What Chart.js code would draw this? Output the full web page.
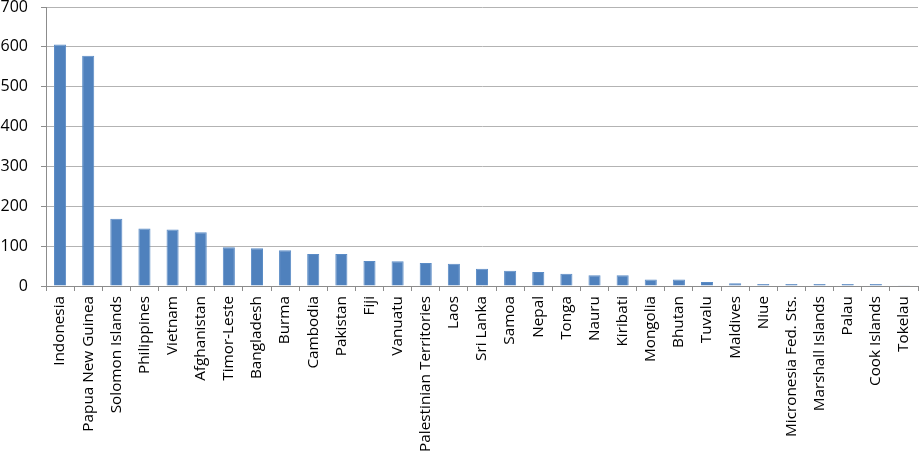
<!DOCTYPE html>
<html>
<head>
<meta charset="utf-8">
<script src="https://cdn.jsdelivr.net/npm/chart.js@4"></script>
<style>
  html, body { margin: 0; padding: 0; background: #fff; }
  #wrap { width: 920px; height: 466px; }
</style>
</head>
<body>
<div id="wrap"><canvas id="countryChart"></canvas></div>
<script>
const countries = [
    'Indonesia', 'Papua New Guinea', 'Solomon Islands', 'Philippines', 'Vietnam',
    'Afghanistan', 'Timor-Leste', 'Bangladesh', 'Burma', 'Cambodia', 'Pakistan',
    'Fiji', 'Vanuatu', 'Palestinian Territories', 'Laos', 'Sri Lanka', 'Samoa',
    'Nepal', 'Tonga', 'Nauru', 'Kiribati', 'Mongolia', 'Bhutan', 'Tuvalu',
    'Maldives', 'Niue', 'Micronesia Fed. Sts.', 'Marshall Islands', 'Palau',
    'Cook Islands', 'Tokelau'
];
const values = [
    606, 578, 169, 144, 142, 135, 97, 95, 90, 80, 80,
    63, 62, 58, 56, 43, 38, 35, 31, 27, 27, 16, 16, 10,
    7, 5, 5, 5, 5, 5, 2
];
const yTicks = [0, 100, 200, 300, 400, 500, 600, 700];

const ctx = document.getElementById('countryChart').getContext('2d');
const chart = new Chart(ctx, {
    type: 'bar',
    data: {
        labels: countries,
        datasets: [{
            data: values,
            backgroundColor: '#4f81bd',
            borderColor: '#5b8cc6',
            borderWidth: 1,
            categoryPercentage: 1,
            barPercentage: 0.43
        }]
    },
    options: {
        responsive: true,
        maintainAspectRatio: false,
        animation: false,
        layout: { padding: { top: 7, right: 2, left: 0, bottom: 0 } },
        plugins: {
            legend: { display: false },
            tooltip: { enabled: false }
        },
        scales: {
            y: {
                min: yTicks[0],
                max: yTicks[yTicks.length - 1],
                afterBuildTicks: axis => { axis.ticks = yTicks.map(v => ({ value: v })); },
                afterFit: axis => {
                    axis.width = 46;
                    axis.paddingTop = 0;
                    axis.paddingBottom = 0;
                },
                ticks: { color: '#000', font: { family: 'Open Sans', size: 16 }, padding: 13 },
                grid: { color: '#b3b3b3', tickLength: 5, tickColor: '#8c8c8c' },
                border: { color: '#8c8c8c' }
            },
            x: {
                afterFit: axis => {
                    axis.height = 180;
                    axis.paddingLeft = 0;
                    axis.paddingRight = 0;
                },
                ticks: {
                    color: '#000',
                    font: { family: 'Open Sans', size: 15.3 },
                    minRotation: 90,
                    maxRotation: 90,
                    autoSkip: false,
                    padding: 5
                },
                grid: { drawOnChartArea: false, tickLength: 5, color: '#8c8c8c', offset: true },
                border: { color: '#8c8c8c' }
            }
        }
    }
});
</script>
</body>
</html>
